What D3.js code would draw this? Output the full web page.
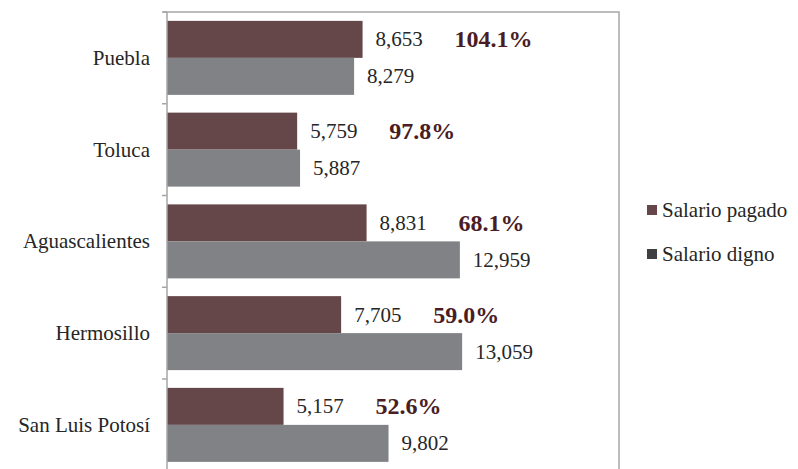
<!DOCTYPE html>
<html><head><meta charset="utf-8">
<script src="https://cdn.jsdelivr.net/npm/d3@7"></script>
<style>svg text{font-family:"Liberation Serif","Times New Roman",serif !important}</style>
</head><body style="margin:0">
<script>
const categories = ["Puebla", "Toluca", "Aguascalientes", "Hermosillo", "San Luis Potosí"];
const salarioPagado = [8653, 5759, 8831, 7705, 5157];
const salarioDigno = [8279, 5887, 12959, 13059, 9802];
const porcentaje = ["104.1%", "97.8%", "68.1%", "59.0%", "52.6%"];
const seriesNames = ["Salario pagado", "Salario digno"];

const W = 798, H = 469;
const FAM = "Liberation Serif, Times New Roman, serif";
const cPagado = "#654749", cDigno = "#808285", cLegDigno = "#404040", cPct = "#4a1d25", cText = "#262626";

const svg = d3.select("body").append("svg").attr("width", W).attr("height", H).style("display", "block");

const x = d3.scaleLinear().domain([0, 20000]).range([167, 619]);
const y0 = d3.scaleBand().domain(categories).range([12, 470.75]);
const y1 = d3.scaleBand().domain(seriesNames).range([0, y0.bandwidth()]).paddingOuter(0.24);
const fmt = d3.format(",");

function styleText(sel, size, bold) {
  sel.style("font-family", FAM, "important").style("font-size", size + "px")
    .style("font-weight", bold ? "bold" : "normal");
  return sel;
}

svg.append("path")
  .attr("d", `M${x(0) - 4},${y0.range()[0]}H${x(20000)}V${H + 5}`)
  .attr("fill", "none").attr("stroke", "#a6a6a6").attr("stroke-width", 1.5);

const data = categories.map((c, i) => ({c, p: salarioPagado[i], d: salarioDigno[i], pct: porcentaje[i]}));

const g = svg.append("g").selectAll("g").data(data).join("g")
  .attr("transform", d => `translate(0,${y0(d.c)})`);

g.append("rect").attr("x", x(0)).attr("y", y1("Salario pagado"))
  .attr("width", d => x(d.p) - x(0)).attr("height", y1.bandwidth()).attr("fill", cPagado);
g.append("rect").attr("x", x(0)).attr("y", y1("Salario digno"))
  .attr("width", d => x(d.d) - x(0)).attr("height", y1.bandwidth()).attr("fill", cDigno);

styleText(g.append("text").attr("x", d => x(d.p) + 13).attr("y", y1("Salario pagado") + y1.bandwidth() / 2 + 7)
  .attr("fill", cText).text(d => fmt(d.p)), 21);
styleText(g.append("text").attr("x", d => x(d.d) + 13).attr("y", y1("Salario digno") + y1.bandwidth() / 2 + 7)
  .attr("fill", cText).text(d => fmt(d.d)), 21);
styleText(g.append("text").attr("x", d => x(d.p) + 92).attr("y", y1("Salario pagado") + y1.bandwidth() / 2 + 8)
  .attr("fill", cPct).text(d => d.pct), 24, true);

// category labels
styleText(svg.append("g").selectAll("text").data(categories).join("text")
  .attr("x", x(0) - 17).attr("y", d => y0(d) + y0.bandwidth() / 2 + 7)
  .attr("text-anchor", "end").attr("fill", cText).text(d => d), 21);

// axis line
svg.append("line").attr("x1", x(0)).attr("x2", x(0)).attr("y1", y0.range()[0]).attr("y2", H + 5)
  .attr("stroke", "#a6a6a6").attr("stroke-width", 1.5);

// boundary ticks
const bounds = categories.map(c => y0(c)).concat([y0.range()[1]]);
svg.append("g").selectAll("line").data(bounds).join("line")
  .attr("x1", x(0) - 5).attr("x2", x(0)).attr("y1", d => d).attr("y2", d => d)
  .attr("stroke", "#a6a6a6").attr("stroke-width", 1.5);

// legend
const leg = svg.append("g").selectAll("g").data(seriesNames).join("g")
  .attr("transform", (d, i) => `translate(647,${205 + i * 44})`);
leg.append("rect").attr("width", 10).attr("height", 10)
  .attr("fill", (d, i) => i === 0 ? cPagado : cLegDigno);
styleText(leg.append("text").attr("x", 15).attr("y", 12)
  .attr("fill", cText).text(d => d), 21);
</script>
</body></html>
